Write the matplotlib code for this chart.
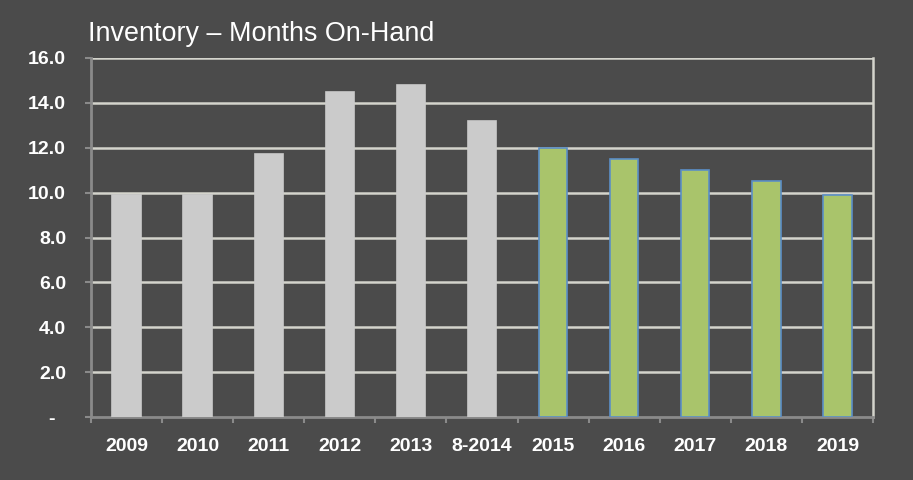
import matplotlib
matplotlib.use("Agg")
import matplotlib.pyplot as plt
import numpy as np

categories = ["2009", "2010", "2011", "2012", "2013", "8-2014", "2015", "2016", "2017", "2018", "2019"]
values = [9.9, 9.9, 11.7, 14.5, 14.8, 13.2, 12.0, 11.5, 11.0, 10.5, 9.9]
forecast = [False] * 6 + [True] * 5
yticks = [0, 2, 4, 6, 8, 10, 12, 14, 16]
ytick_labels = ["-  ", "2.0", "4.0", "6.0", "8.0", "10.0", "12.0", "14.0", "16.0"]

plt.rcParams["font.family"] = ["Liberation Sans", "DejaVu Sans"]
plt.rcParams["font.weight"] = "bold"

bg = "#4b4b4b"
fig = plt.figure(figsize=(9.13, 4.8), dpi=100, facecolor=bg)
ax = fig.add_axes([91/913, 63/480, 782/913, 359/480], facecolor=bg)

x = np.arange(len(categories))
colors = ["#a9c46b" if f else "#cbcbcb" for f in forecast]
edges = ["#5b8fc7" if f else "#cbcbcb" for f in forecast]
ax.bar(x, values, width=0.4, color=colors, edgecolor=edges, linewidth=1.2, zorder=3)

ax.set_xlim(-0.5, len(categories) - 0.5)
ax.set_ylim(0, 16)
ax.set_yticks(yticks)
ax.set_yticklabels(ytick_labels, fontsize=14, fontweight="bold", color="white")
for y in yticks[1:]:
    ax.axhline(y, color="#d4d4cc", linewidth=1.8, zorder=1)

ax.set_xticks(np.arange(-0.5, len(categories) + 0.5, 1.0))
ax.set_xticklabels([])
ax.set_xticks(x, minor=True)
ax.set_xticklabels(categories, minor=True, fontsize=14, fontweight="bold", color="white")
ax.tick_params(axis="x", which="minor", length=0, pad=15, labelsize=14, labelcolor="white")
ax.tick_params(axis="x", which="major", length=4.5, width=1.5, color="#8a8a8a", direction="out")
ax.tick_params(axis="y", length=4.5, width=1.5, color="#8a8a8a", direction="out", pad=13.5,
               labelsize=14, labelcolor="white")

for s in ["left", "bottom"]:
    ax.spines[s].set_color("#8a8a8a")
    ax.spines[s].set_linewidth(2)
ax.spines["right"].set_color("#d4d4cc")
ax.spines["right"].set_linewidth(1.8)
ax.spines["top"].set_visible(False)

fig.text(88/913, 1 - 41/480, "Inventory \u2013 Months On-Hand", color="white",
         fontsize=19.4, fontweight="normal", ha="left", va="baseline")

fig.savefig("out.png", dpi=100, facecolor=bg)
